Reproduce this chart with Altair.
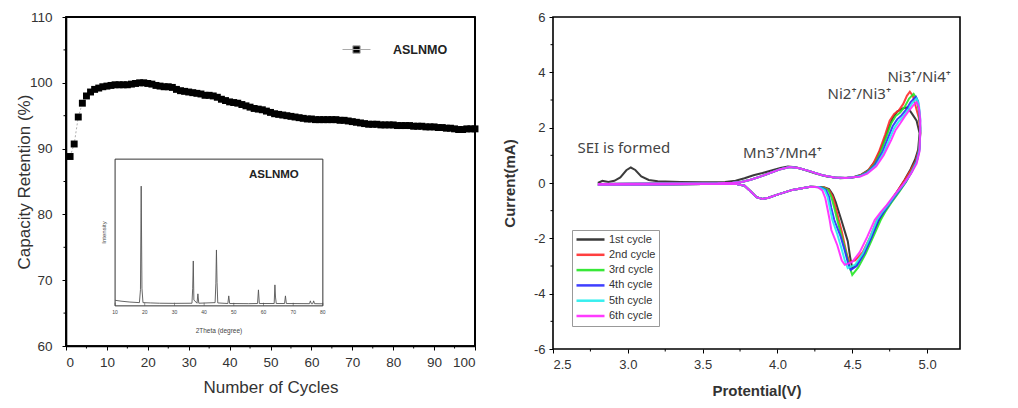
import altair as alt
import pandas as pd

# ---------------- left panel: capacity retention ----------------
cycles = list(range(1, 101))
retention = [
    88.8, 90.7, 94.8, 96.9, 98.0, 98.6, 99.0, 99.2, 99.4, 99.5,
    99.6, 99.7, 99.7, 99.7, 99.7, 99.8, 99.9, 100.0, 100.0, 99.9,
    99.8, 99.6, 99.5, 99.4, 99.4, 99.3, 99.0, 98.8, 98.7, 98.6,
    98.5, 98.4, 98.3, 98.1, 98.1, 98.0, 97.8, 97.5, 97.3, 97.1,
    97.0, 96.9, 96.7, 96.5, 96.3, 96.1, 96.0, 95.9, 95.7, 95.5,
    95.3, 95.2, 95.1, 95.0, 94.9, 94.8, 94.7, 94.6, 94.5, 94.5,
    94.4, 94.4, 94.4, 94.4, 94.4, 94.4, 94.3, 94.3, 94.2, 94.1,
    94.0, 93.9, 93.8, 93.7, 93.7, 93.7, 93.6, 93.6, 93.6, 93.6,
    93.5, 93.5, 93.5, 93.5, 93.4, 93.4, 93.4, 93.3, 93.3, 93.3,
    93.2, 93.2, 93.1, 93.1, 93.0, 92.9, 92.9, 93.0, 93.0, 93.0,
]
series_name = ["ASLNMO"]
cycle_ticks = [0, 10, 20, 30, 40, 50, 60, 70, 80, 90, 100]
cycle_minor = [5, 15, 25, 35, 45, 55, 65, 75, 85, 95]
ret_ticks = [60, 70, 80, 90, 100, 110]
ret_minor = [65, 75, 85, 95, 105]

# inset XRD pattern
xrd_theta = [10, 12, 15, 18.2, 18.55, 18.8, 19.05, 19.4, 22, 25, 30, 35.9, 36.15,
             36.35, 36.55, 37.6, 37.9, 38.2, 43.7, 43.95, 44.15, 44.35, 44.6, 48.0,
             48.3, 48.6, 55, 58.0, 58.3, 58.6, 63.6, 63.85, 64.05, 64.3, 67.1, 67.4,
             67.7, 75.5, 75.8, 76.1, 76.6, 76.9, 77.2, 80]
xrd_int = [38, 32, 26, 22, 110, 816, 120, 22, 20, 18, 17, 18, 120,
           306, 40, 18, 82, 18, 22, 150, 381, 160, 20, 16,
           68, 16, 15, 16, 109, 16, 16, 143, 60, 16, 16, 68,
           16, 15, 34, 15, 15, 34, 15, 14]
xrd_ticks = [10, 20, 30, 40, 50, 60, 70, 80]
xrd_range = [0, 1000]

# ---------------- right panel: cyclic voltammetry ----------------
cycle_names = ["1st cycle", "2nd cycle", "3rd cycle", "4th cycle", "5th cycle", "6th cycle"]
cycle_colors = ["#262626", "#ff2b2b", "#23e623", "#2b2bff", "#22eeee", "#ff26ff"]

fwd_low_first = [(2.80, 0.00), (2.83, 0.08), (2.87, 0.04), (2.91, 0.08), (2.95, 0.20),
                 (2.99, 0.46), (3.02, 0.56), (3.05, 0.47), (3.09, 0.24), (3.14, 0.11),
                 (3.20, 0.06), (3.35, 0.04), (3.50, 0.03), (3.65, 0.04), (3.72, 0.08),
                 (3.78, 0.17), (3.84, 0.28), (3.90, 0.36), (3.96, 0.45), (4.02, 0.54),
                 (4.07, 0.60), (4.12, 0.57), (4.18, 0.48), (4.25, 0.35), (4.33, 0.23),
                 (4.42, 0.17), (4.50, 0.20)]
fwd_low = [(2.80, -0.04), (3.00, -0.03), (3.30, -0.02), (3.60, -0.01), (3.70, 0.01),
           (3.76, 0.04), (3.82, 0.12), (3.88, 0.22), (3.95, 0.36), (4.02, 0.50),
           (4.08, 0.58), (4.14, 0.54), (4.22, 0.42), (4.30, 0.28), (4.38, 0.20),
           (4.46, 0.18), (4.52, 0.22)]
rev_low = [(4.22, -0.14), (4.10, -0.25), (4.00, -0.42), (3.94, -0.53), (3.90, -0.58),
           (3.86, -0.51), (3.82, -0.30), (3.78, -0.10), (3.72, -0.03), (3.50, -0.04),
           (3.20, -0.05), (2.80, -0.06)]

hi_1 = [(4.56, 0.30), (4.61, 0.48), (4.66, 0.85), (4.70, 1.35), (4.74, 1.95), (4.77, 2.35),
        (4.80, 2.58), (4.84, 2.70), (4.87, 2.73), (4.90, 2.50), (4.93, 2.25), (4.95, 1.80),
        (4.94, 1.20), (4.92, 0.85), (4.89, 0.50), (4.85, 0.12), (4.80, -0.32), (4.75, -0.72),
        (4.68, -1.34), (4.63, -1.95), (4.58, -2.50), (4.53, -2.95), (4.50, -3.08),
        (4.485, -2.65), (4.47, -2.10), (4.45, -1.75), (4.427, -1.34), (4.41, -1.05),
        (4.39, -0.70), (4.37, -0.42), (4.345, -0.22), (4.31, -0.15)]
hi_2 = [(4.55, 0.27), (4.60, 0.42), (4.64, 0.70), (4.68, 1.15), (4.72, 1.75), (4.75, 2.25),
        (4.78, 2.50), (4.81, 2.62), (4.84, 2.85), (4.865, 3.15), (4.885, 3.30), (4.905, 3.15),
        (4.925, 2.75), (4.945, 2.35), (4.955, 1.80), (4.945, 1.20), (4.925, 0.80), (4.89, 0.45),
        (4.85, 0.10), (4.80, -0.30), (4.75, -0.70), (4.70, -1.05), (4.665, -1.34), (4.62, -1.95),
        (4.57, -2.50), (4.52, -2.80), (4.48, -2.85), (4.465, -2.60), (4.45, -2.25), (4.43, -1.75),
        (4.41, -1.34), (4.39, -0.90), (4.37, -0.50), (4.345, -0.25), (4.31, -0.15)]
hi_3 = [(4.55, 0.26), (4.60, 0.40), (4.65, 0.68), (4.69, 1.12), (4.73, 1.70), (4.76, 2.15),
        (4.79, 2.42), (4.82, 2.55), (4.85, 2.75), (4.88, 3.05), (4.91, 3.22), (4.93, 3.05),
        (4.945, 2.60), (4.955, 2.00), (4.95, 1.30), (4.935, 0.85), (4.90, 0.45), (4.86, 0.05),
        (4.81, -0.35), (4.76, -0.72), (4.72, -1.05), (4.69, -1.34), (4.64, -1.95), (4.59, -2.55),
        (4.54, -3.05), (4.50, -3.32), (4.48, -3.00), (4.46, -2.55), (4.43, -1.95), (4.40, -1.34),
        (4.38, -0.90), (4.36, -0.50), (4.34, -0.25), (4.30, -0.15)]
hi_4 = [(4.55, 0.25), (4.60, 0.38), (4.65, 0.64), (4.70, 1.10), (4.74, 1.65), (4.77, 2.05),
        (4.80, 2.30), (4.83, 2.45), (4.86, 2.65), (4.89, 2.92), (4.925, 3.12), (4.94, 2.95),
        (4.95, 2.50), (4.955, 1.90), (4.95, 1.25), (4.93, 0.80), (4.90, 0.42), (4.855, 0.02),
        (4.80, -0.38), (4.75, -0.75), (4.71, -1.05), (4.675, -1.34), (4.63, -1.95), (4.58, -2.55),
        (4.53, -3.00), (4.49, -3.14), (4.47, -2.85), (4.45, -2.45), (4.42, -1.90), (4.38, -1.34),
        (4.36, -0.90), (4.345, -0.50), (4.325, -0.25), (4.29, -0.15)]
hi_5 = [(4.55, 0.24), (4.60, 0.36), (4.66, 0.64), (4.71, 1.08), (4.75, 1.60), (4.78, 1.98),
        (4.81, 2.22), (4.84, 2.40), (4.87, 2.62), (4.90, 2.88), (4.93, 3.05), (4.945, 2.85),
        (4.955, 2.30), (4.95, 1.20), (4.93, 0.75), (4.895, 0.38), (4.85, 0.00), (4.79, -0.40),
        (4.74, -0.78), (4.70, -1.05), (4.665, -1.34), (4.62, -1.95), (4.57, -2.55), (4.52, -2.95),
        (4.47, -3.08), (4.45, -2.80), (4.43, -2.40), (4.40, -1.85), (4.367, -1.34), (4.35, -0.90),
        (4.335, -0.50), (4.315, -0.25), (4.28, -0.15)]
hi_6 = [(4.55, 0.23), (4.60, 0.34), (4.66, 0.60), (4.71, 1.00), (4.76, 1.55), (4.79, 1.92),
        (4.82, 2.15), (4.85, 2.40), (4.88, 2.62), (4.91, 2.82), (4.93, 2.92), (4.945, 2.75),
        (4.955, 2.25), (4.95, 1.15), (4.93, 0.70), (4.89, 0.32), (4.84, -0.05), (4.78, -0.45),
        (4.73, -0.80), (4.69, -1.05), (4.65, -1.34), (4.60, -1.95), (4.55, -2.50), (4.50, -2.85),
        (4.45, -2.96), (4.43, -2.80), (4.40, -2.25), (4.36, -1.70), (4.349, -1.34), (4.335, -0.95),
        (4.32, -0.55), (4.30, -0.27), (4.27, -0.15)]

v_ticks = [2.5, 3.0, 3.5, 4.0, 4.5, 5.0]
v_minor = [2.75, 3.25, 3.75, 4.25, 4.75]
i_ticks = [-6, -4, -2, 0, 2, 4, 6]
i_minor = [-5, -3, -1, 1, 3, 5]

notes_text = ["SEI is formed", "Mn3\u207a/Mn4\u207a", "Ni2\u207a/Ni3\u207a", "Ni3\u207a/Ni4\u207a"]
notes_v = [2.973, 4.033, 4.547, 4.947]
notes_i = [1.27, 1.08, 3.22, 3.83]

# ---------------- inset placement (in main-axis units) ----------------
IX0, IX1 = 12.0, 62.8      # cycle position of 2Theta 10 and 80
IY0, IY1 = 66.1, 88.4      # retention position of intensity 0 and 1000
TX = f"{IX0} + (datum.theta - 10) * {(IX1 - IX0) / 70}"
TY = f"{IY0} + datum.inten * {(IY1 - IY0) / 1000}"

# ---------------- tables ----------------
ret_df = pd.DataFrame({"cycle": cycles, "ret": retention, "series": series_name * len(cycles)})
xmin_df = pd.DataFrame({"cycle": cycle_minor})
ymin_df = pd.DataFrame({"ret": ret_minor})
box_df = pd.DataFrame({"cycle": [cycle_ticks[0]], "cycle2": [cycle_ticks[-1]],
                       "ret": [ret_ticks[0]], "ret2": [ret_ticks[-1]]})
top_df = pd.DataFrame({"cycle": [cycle_ticks[0]], "cycle2": [cycle_ticks[-1]], "ret": [ret_ticks[-1]]})
rgt_df = pd.DataFrame({"cycle": [cycle_ticks[-1]], "ret": [ret_ticks[0]], "ret2": [ret_ticks[-1]]})
xrd_df = pd.DataFrame({"theta": xrd_theta, "inten": xrd_int})
frame_df = pd.DataFrame({"theta": [xrd_ticks[0]], "theta_b": [xrd_ticks[-1]],
                         "inten": [xrd_range[0]], "inten_b": [xrd_range[1]]})
itick_df = pd.DataFrame({"theta": xrd_ticks, "inten": [xrd_range[0]] * len(xrd_ticks),
                         "t": [str(v) for v in xrd_ticks]})
ititle_df = pd.DataFrame({"theta": [45], "inten": [xrd_range[0]], "t": ["2Theta (degree)"]})
iylab_df = pd.DataFrame({"theta": [xrd_ticks[0]], "inten": [500], "t": ["Intensity"]})
inset_lab_df = pd.DataFrame({"theta": [63.5], "inten": [895], "t": ["ASLNMO"]})

loops = [fwd_low_first + hi_1 + rev_low, fwd_low + hi_2 + rev_low, fwd_low + hi_3 + rev_low,
         fwd_low + hi_4 + rev_low, fwd_low + hi_5 + rev_low, fwd_low + hi_6 + rev_low]
rows = []
for name, loop in zip(cycle_names, loops):
    for k, (v, i) in enumerate(loop):
        rows.append({"V": v, "I": i, "cycle": name, "idx": k})
cv_df = pd.DataFrame(rows)
vmin_df = pd.DataFrame({"V": v_minor})
imin_df = pd.DataFrame({"I": i_minor})
notes_df = pd.DataFrame({"V": notes_v, "I": notes_i, "t": notes_text})

FONT = "Liberation Sans"
LW, LH = 409, 329
RW, RH = 407, 332
FRAME = alt.ViewConfig(stroke="black", strokeWidth=1.6)

# ---------------- left panel ----------------
lx_scale = alt.Scale(domain=[0, 100], nice=False)
ly_scale = alt.Scale(domain=[60, 110], nice=False)
lx_axis = alt.Axis(values=cycle_ticks, title="Number of Cycles", tickSize=4, labelPadding=5,
                   labelFontSize=13.5, titleFontSize=17, titlePadding=11, grid=False,
                   domain=True, domainColor="black", domainWidth=1.6, tickColor="black",
                   tickWidth=1, titleFontWeight="normal")
ly_axis = alt.Axis(values=ret_ticks, title="Capacity Retention (%)", tickSize=4, labelPadding=10,
                   labelFontSize=13.5, titleFontSize=17, titlePadding=-4, grid=False,
                   domain=True, domainColor="black", domainWidth=1.6, tickColor="black",
                   tickWidth=1, titleFontWeight="normal")
LX = alt.X("cycle:Q", scale=lx_scale, axis=lx_axis)
LY = alt.Y("ret:Q", scale=ly_scale, axis=ly_axis)

box = alt.Chart(box_df).mark_rect(fill="transparent", stroke="black", strokeWidth=1.6,
                                  clip=False).encode(x=LX, x2="cycle2:Q", y=LY, y2="ret2:Q")
top_edge = alt.Chart(top_df).mark_rule(color="black", strokeWidth=1.6, clip=False).encode(
    x=LX, x2="cycle2:Q", y=LY)
right_edge = alt.Chart(rgt_df).mark_rule(color="black", strokeWidth=1.6, clip=False).encode(
    x=LX, y=LY, y2="ret2:Q")
ret_line = alt.Chart(ret_df).mark_line(color="#999999", strokeWidth=0.8, strokeDash=[2, 2]).encode(x=LX, y=LY)
ret_pts = alt.Chart(ret_df).mark_square(size=48, opacity=1).encode(
    x=LX, y=LY,
    color=alt.Color("series:N", scale=alt.Scale(domain=series_name, range=["black"]),
                    legend=alt.Legend(title=None, orient="none", legendX=276, legendY=18,
                                      symbolType="M-1,0H1M-0.26,-0.26H0.26V0.26H-0.26Z",
                                      symbolSize=784, symbolStrokeColor="#aaaaaa",
                                      symbolFillColor="black", symbolStrokeWidth=1,
                                      labelFontSize=12.5, labelFontWeight="bold",
                                      labelColor="#222222", labelOffset=22, padding=0,
                                      labelFont=FONT)))
lxm = alt.Chart(xmin_df).mark_rule(color="black", strokeWidth=1, clip=False).encode(
    x=LX, y=alt.value(LH), y2=alt.value(LH + 2.5))
lym = alt.Chart(ymin_df).mark_rule(color="black", strokeWidth=1, clip=False).encode(
    y=LY, x=alt.value(0), x2=alt.value(-2.5))

# inset drawn in the main axes through a linear placement transform
xrd_line = alt.Chart(xrd_df).transform_calculate(cycle=TX, ret=TY).mark_line(
    color="#555555", strokeWidth=0.9).encode(x=LX, y=LY, order=alt.Order("theta:Q"))
inset_frame = alt.Chart(frame_df).transform_calculate(
    cycle=TX, ret=TY,
    cycle2=f"{IX0} + (datum.theta_b - 10) * {(IX1 - IX0) / 70}",
    ret2=f"{IY0} + datum.inten_b * {(IY1 - IY0) / 1000}"
).mark_rect(filled=False, stroke="#333333", strokeWidth=1).encode(
    x=LX, x2="cycle2:Q", y=LY, y2="ret2:Q")
inset_ticks = alt.Chart(itick_df).transform_calculate(cycle=TX, ret=TY).mark_tick(
    color="#444444", orient="vertical", size=3, thickness=0.8, yOffset=-1.5).encode(x=LX, y=LY)
inset_tlab = alt.Chart(itick_df).transform_calculate(cycle=TX, ret=TY).mark_text(
    fontSize=5, font=FONT, color="#444444", dy=6).encode(x=LX, y=LY, text="t:N")
inset_title = alt.Chart(ititle_df).transform_calculate(cycle=TX, ret=TY).mark_text(
    fontSize=6.5, font=FONT, color="#444444", dy=25).encode(x=LX, y=LY, text="t:N")
inset_ylab = alt.Chart(iylab_df).transform_calculate(cycle=TX, ret=TY).mark_text(
    fontSize=6, font=FONT, color="#444444", angle=270, dy=-11).encode(x=LX, y=LY, text="t:N")
inset_lab = alt.Chart(inset_lab_df).transform_calculate(cycle=TX, ret=TY).mark_text(
    fontSize=11.5, fontWeight="bold", font=FONT, color="#222222").encode(x=LX, y=LY, text="t:N")

left = alt.layer(box, ret_line, ret_pts, lxm, lym, inset_frame, xrd_line, inset_ticks,
                 inset_tlab, inset_title, inset_ylab, inset_lab, top_edge, right_edge
                 ).properties(width=LW, height=LH, view=FRAME)

# ---------------- right panel ----------------
rx_scale = alt.Scale(domain=[2.5, 5.22], nice=False)
ry_scale = alt.Scale(domain=[-6, 6], nice=False)
rx_axis = alt.Axis(values=v_ticks, format=".1f", title="Protential(V)", tickSize=4, labelPadding=5,
                   labelFontSize=13, titleFontSize=15, titleFontWeight="bold", titlePadding=12,
                   grid=False, domain=False)
ry_axis = alt.Axis(values=i_ticks, labelExpr="datum.value + ''", title="Current(mA)", tickSize=4,
                   labelPadding=4, labelFontSize=13, titleFontSize=15, titleFontWeight="bold",
                   titlePadding=16, grid=False, domain=False)
RX = alt.X("V:Q", scale=rx_scale, axis=rx_axis)
RY = alt.Y("I:Q", scale=ry_scale, axis=ry_axis)

cv_lines = alt.Chart(cv_df).mark_line(strokeWidth=2, opacity=0.9).encode(
    x=RX, y=RY, order=alt.Order("idx:Q"),
    color=alt.Color("cycle:N", scale=alt.Scale(domain=cycle_names, range=cycle_colors),
                    legend=alt.Legend(title=None, orient="none", legendX=19, legendY=213,
                                      symbolType="stroke", symbolSize=784, symbolStrokeWidth=2.5,
                                      clipHeight=13, rowPadding=2.3, labelFontSize=11,
                                      labelColor="#333333", labelOffset=3, padding=3,
                                      strokeColor="#999999", fillColor="white", labelFont=FONT)))
notes = alt.Chart(notes_df).mark_text(fontSize=15, font="Noto Sans", color="#444444").encode(
    x=RX, y=RY, text="t:N")
rxm = alt.Chart(vmin_df).mark_rule(color="black", strokeWidth=1).encode(
    x=RX, y=alt.value(RH), y2=alt.value(RH + 2.5))
rym = alt.Chart(imin_df).mark_rule(color="black", strokeWidth=1).encode(
    y=RY, x=alt.value(0), x2=alt.value(-2.5))
right = alt.layer(cv_lines, notes, rxm, rym).properties(width=RW, height=RH, view=FRAME)

chart = alt.hconcat(left, right, spacing=21).resolve_scale(color="independent").properties(
    padding={"left": 6, "top": 1, "right": 5, "bottom": 5}, background="white"
).configure_view(stroke="black", strokeWidth=1.6).configure_axis(
    labelFont=FONT, titleFont=FONT, labelColor="#333333", titleColor="#333333",
    tickColor="black"
)

chart.save("out.html", embed_options={"renderer": "svg", "actions": False})
